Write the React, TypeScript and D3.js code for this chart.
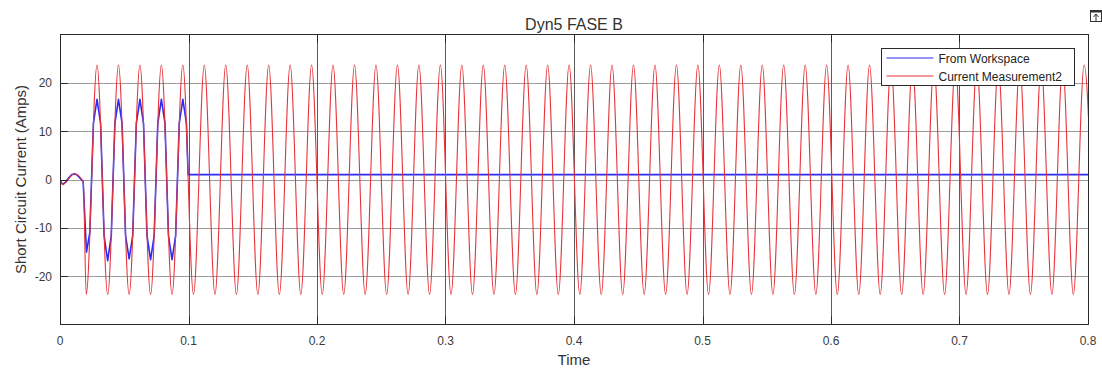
import React from "react";
import * as d3 from "d3";

// Chart text
const titleText = "Dyn5 FASE B";
const xLabel = "Time";
const yLabel = "Short Circuit Current (Amps)";
const seriesNames = ["From Workspace", "Current Measurement2"];

// Axis ticks
const xTicks = [0, 0.1, 0.2, 0.3, 0.4, 0.5, 0.6, 0.7, 0.8];
const yTicks = [-20, -10, 0, 10, 20];

// Current Measurement2: pre-fault ripple, then the fault current extremes
const redPreFault: [number, number][] = [
  [0, 0], [0.0022, -1.0], [0.0112, 1.2], [0.0181, -0.5],
];
const redPeakTimes = [
  0.0288, 0.0455, 0.0622, 0.0789, 0.0956, 0.1123, 0.129, 0.1457, 0.1624, 0.1791,
  0.1958, 0.2125, 0.2292, 0.2459, 0.2626, 0.2793, 0.296, 0.3127, 0.3294, 0.3461,
  0.3628, 0.3795, 0.3962, 0.4129, 0.4296, 0.4463, 0.463, 0.4797, 0.4964, 0.5131,
  0.5298, 0.5465, 0.5632, 0.5799, 0.5966, 0.6133, 0.63, 0.6467, 0.6634, 0.6801,
  0.6968, 0.7135, 0.7302, 0.7469, 0.7636, 0.7803, 0.797,
];
const redTroughTimes = [
  0.0204, 0.0371, 0.0538, 0.0705, 0.0872, 0.1039, 0.1206, 0.1373, 0.154, 0.1707,
  0.1874, 0.2041, 0.2208, 0.2375, 0.2542, 0.2709, 0.2876, 0.3043, 0.321, 0.3377,
  0.3544, 0.3711, 0.3878, 0.4045, 0.4212, 0.4379, 0.4546, 0.4713, 0.488, 0.5047,
  0.5214, 0.5381, 0.5548, 0.5715, 0.5882, 0.6049, 0.6216, 0.6383, 0.655, 0.6717,
  0.6884, 0.7051, 0.7218, 0.7385, 0.7552, 0.7719, 0.7886, 0.8053,
];
const redPeakValue = 23.7;
const redTroughValue = -23.8;

// From Workspace: sampled signal (vertices of the polyline)
const bluePoints: [number, number][] = [
  [0, 0], [0.0011, -0.7], [0.0022, -1.0], [0.0045, -0.5], [0.0067, 0.3],
  [0.009, 1.0], [0.0112, 1.2], [0.0135, 0.9], [0.0158, 0.2], [0.018, -0.4],
  [0.0206, -15.0], [0.0232, -11.0],
  [0.026, 11.6], [0.0288, 16.6], [0.0316, 11.6],
  [0.0343, -11.6], [0.0371, -16.8], [0.0399, -11.6],
  [0.0427, 11.6], [0.0455, 16.6], [0.0483, 11.6],
  [0.051, -11.6], [0.0538, -16.4], [0.0566, -11.6],
  [0.0594, 11.6], [0.0622, 16.6], [0.065, 11.6],
  [0.0677, -11.6], [0.0705, -16.6], [0.0733, -11.6],
  [0.0761, 11.6], [0.0789, 16.6], [0.0817, 11.6],
  [0.0844, -11.6], [0.0872, -16.6], [0.09, -11.6],
  [0.0928, 11.6], [0.0956, 16.6], [0.0984, 11.6],
  [0.0997, 1.0], [0.8, 1.0],
];

const W = 1102;
const H = 368;
const plot = { left: 60, right: 1088, top: 34.5, bottom: 324.5 };

const font = "'Liberation Sans', Arial, Helvetica, sans-serif";
const blue = "#2b2bf2";
const red = "#e6343a";

export default function App() {
  const x = d3.scaleLinear().domain([0, 0.8]).range([plot.left, plot.right]);
  const y = d3.scaleLinear().domain([-30, 30]).range([plot.bottom, plot.top]);

  const redPoints: [number, number][] = [
    ...redPreFault,
    ...redPeakTimes.map((t) => [t, redPeakValue] as [number, number]),
    ...redTroughTimes.map((t) => [t, redTroughValue] as [number, number]),
  ].sort((a, b) => a[0] - b[0]);

  const redLine = d3
    .line<[number, number]>()
    .x((d) => x(d[0]))
    .y((d) => y(d[1]))
    .curve(d3.curveMonotoneX);
  const blueLine = d3
    .line<[number, number]>()
    .x((d) => x(d[0]))
    .y((d) => y(d[1]));

  const legend = { x: 881.5, y: 48.5, w: 193, h: 37 };

  return (
    <svg
      width={W}
      height={H}
      style={{ position: "absolute", left: 0, top: 0, background: "#fff" }}
      fontFamily={font}
    >
      <defs>
        <clipPath id="plotClip">
          <rect
            x={plot.left}
            y={plot.top}
            width={plot.right - plot.left}
            height={plot.bottom - plot.top}
          />
        </clipPath>
      </defs>
      <rect width={W} height={H} fill="#fff" />

      {/* grid */}
      {yTicks.map((t) => (
        <line
          key={"gy" + t}
          x1={plot.left}
          x2={plot.right}
          y1={Math.round(y(t)) + 0.5}
          y2={Math.round(y(t)) + 0.5}
          stroke="#9c9c9c"
          strokeWidth={1}
        />
      ))}
      {xTicks.slice(1, -1).map((t) => (
        <line
          key={"gx" + t}
          x1={Math.round(x(t)) + 0.5}
          x2={Math.round(x(t)) + 0.5}
          y1={plot.top}
          y2={plot.bottom}
          stroke="#5c5c5c"
          strokeWidth={1}
        />
      ))}

      {/* series */}
      <g clipPath="url(#plotClip)">
        <path
          d={blueLine(bluePoints) || ""}
          fill="none"
          stroke={blue}
          strokeWidth={1.6}
          strokeLinejoin="round"
        />
        <path
          d={redLine(redPoints) || ""}
          fill="none"
          stroke={red}
          strokeWidth={1.1}
        />
      </g>

      {/* frame */}
      <rect
        x={plot.left + 0.5}
        y={plot.top}
        width={plot.right - plot.left}
        height={plot.bottom - plot.top}
        fill="none"
        stroke="#2a2a2a"
        strokeWidth={1}
      />

      {/* x tick marks on top and bottom */}
      {xTicks.map((t) => (
        <g key={"tx" + t}>
          <line
            x1={Math.round(x(t)) + 0.5}
            x2={Math.round(x(t)) + 0.5}
            y1={plot.top}
            y2={plot.top + 8}
            stroke="#2a2a2a"
          />
          <line
            x1={Math.round(x(t)) + 0.5}
            x2={Math.round(x(t)) + 0.5}
            y1={plot.bottom}
            y2={plot.bottom - 8}
            stroke="#2a2a2a"
          />
          <text
            x={x(t)}
            y={345}
            textAnchor="middle"
            fontSize={12}
            fill="#3a3a3a"
          >
            {String(t)}
          </text>
        </g>
      ))}

      {/* y tick marks and labels */}
      {yTicks.map((t) => (
        <g key={"ty" + t}>
          <line
            x1={plot.left}
            x2={plot.left + 8}
            y1={Math.round(y(t)) + 0.5}
            y2={Math.round(y(t)) + 0.5}
            stroke="#2a2a2a"
          />
          <text
            x={52}
            y={y(t) + 4.5}
            textAnchor="end"
            fontSize={12}
            fill="#3a3a3a"
          >
            {String(t)}
          </text>
        </g>
      ))}

      {/* titles */}
      <text
        x={(plot.left + plot.right) / 2}
        y={30}
        textAnchor="middle"
        fontSize={16}
        fill="#333"
      >
        {titleText}
      </text>
      <text
        x={(plot.left + plot.right) / 2}
        y={365}
        textAnchor="middle"
        fontSize={15}
        fill="#333"
      >
        {xLabel}
      </text>
      <text
        transform={`translate(26, ${y(0)}) rotate(-90)`}
        textAnchor="middle"
        fontSize={15}
        fill="#333"
      >
        {yLabel}
      </text>

      {/* legend */}
      <rect
        x={legend.x}
        y={legend.y}
        width={legend.w}
        height={legend.h}
        fill="#fff"
        stroke="#2a2a2a"
        strokeWidth={1}
      />
      {seriesNames.map((name, i) => {
        const ly = legend.y + 9.5 + i * 18;
        return (
          <g key={name}>
            <line
              x1={legend.x + 5}
              x2={legend.x + 52}
              y1={ly}
              y2={ly}
              stroke={i === 0 ? blue : red}
              strokeWidth={1.2}
            />
            <text x={legend.x + 57} y={ly + 4.5} fontSize={12} fill="#222">
              {name}
            </text>
          </g>
        );
      })}

      {/* figure toolbar glyph */}
      <g stroke="#333" fill="none">
        <rect x={1090.5} y={10.5} width={11} height={11} strokeWidth={1} />
        <line x1={1090.5} x2={1101.5} y1={11.5} y2={11.5} strokeWidth={2} />
        <line x1={1096} x2={1096} y1={14} y2={21} strokeWidth={1} />
        <path d="M1093.5,17 L1096,14 L1098.5,17" strokeWidth={1} />
      </g>
    </svg>
  );
}
